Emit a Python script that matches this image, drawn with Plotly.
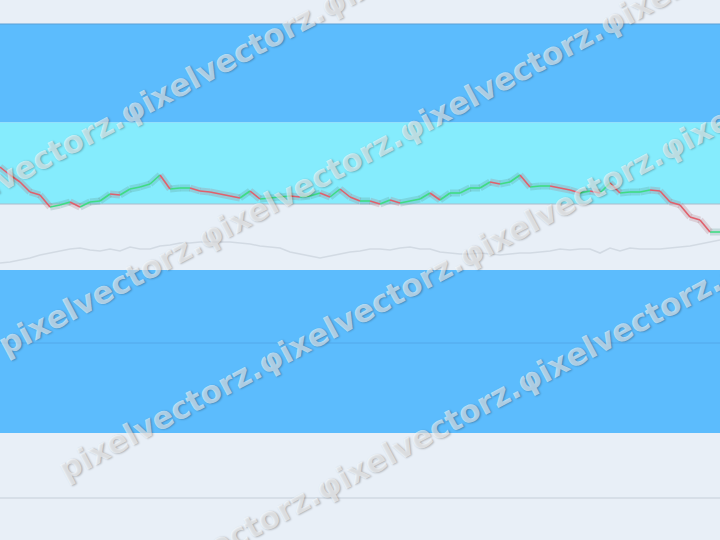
import plotly.graph_objects as go
import math

# ---------------- data ----------------
days = list(range(73))
close = [37.3, 36.5, 35.8, 34.8, 34.5, 33.3, 33.5, 33.8, 33.3, 33.8, 33.9, 34.6, 34.5, 35.1, 35.3,
         35.6, 36.5, 35.1, 35.2, 35.2, 34.9, 34.8, 34.6, 34.4, 34.2, 34.9, 34.1, 34.2, 34.3, 34.4,
         34.3, 34.4, 34.7, 34.3, 35.1, 34.3, 33.9, 33.9, 33.6, 34.0, 33.7, 33.9, 34.1, 34.7, 34.0,
         34.7, 34.7, 35.2, 35.2, 35.8, 35.6, 35.8, 36.5, 35.3, 35.4, 35.4, 35.2, 35.0, 34.7, 34.9,
         34.7, 35.7, 34.7, 34.8, 34.8, 35.0, 34.9, 33.8, 33.5, 32.3, 32.0, 30.8, 30.8]
avg_line = [27.7, 27.8, 28.0, 28.2, 28.5, 28.7, 28.9, 29.1, 29.2, 29.0, 28.9, 29.1, 28.9, 29.3, 29.1,
            29.1, 29.4, 29.5, 29.7, 29.7, 29.8, 29.8, 29.8, 29.8, 29.7, 29.6, 29.4, 29.3, 29.2, 28.8,
            28.6, 28.4, 28.2, 28.4, 28.6, 28.8, 28.9, 29.1, 29.1, 29.0, 29.2, 29.3, 29.1, 29.1, 28.8,
            28.7, 28.6, 28.6, 28.7, 28.6, 28.5, 28.6, 28.7, 28.7, 28.8, 28.9, 29.1, 29.0, 29.1, 29.1,
            28.7, 29.2, 28.9, 29.2, 29.1, 29.1, 29.1, 29.2, 29.3, 29.4, 29.6, 29.8, 30.0]
zone_top = [51.6, 41.75, 27.0]
zone_bottom = [41.75, 33.6, 10.7]
zone_color = ["#5cbcfd", "#85ecfd", "#5cbcfd"]
level_lines = [51.6, 33.6, 19.7, 4.2]
level_colors = ["#5a9fd6", "#a9bccb", "#52a8ea", "#c5ced8"]
watermark_unit = "φixelvectorz."
watermark_first = "pixelvectorz."

# ---------------- figure ----------------
fig = go.Figure()

# faint average line
fig.add_trace(go.Scatter(x=days, y=avg_line, mode="lines",
                         line=dict(color="#d2dae3", width=1.6), hoverinfo="skip"))

# split close into rising / falling segments
up_x, up_y, dn_x, dn_y = [], [], [], []
for i in range(len(close) - 1):
    if close[i + 1] >= close[i]:
        up_x += [days[i], days[i + 1], None]
        up_y += [close[i], close[i + 1], None]
    else:
        dn_x += [days[i], days[i + 1], None]
        dn_y += [close[i], close[i + 1], None]

fig.add_trace(go.Scatter(x=up_x, y=up_y, mode="lines",
                         line=dict(color="rgba(90,150,140,0.25)", width=7), hoverinfo="skip"))
fig.add_trace(go.Scatter(x=dn_x, y=dn_y, mode="lines",
                         line=dict(color="rgba(180,110,120,0.25)", width=7), hoverinfo="skip"))
fig.add_trace(go.Scatter(x=up_x, y=up_y, mode="lines",
                         line=dict(color="#3fdc84", width=1.6), hoverinfo="skip"))
fig.add_trace(go.Scatter(x=dn_x, y=dn_y, mode="lines",
                         line=dict(color="#e0606c", width=1.6), hoverinfo="skip"))

shapes = []
for t, b, c in zip(zone_top, zone_bottom, zone_color):
    shapes.append(dict(type="rect", xref="paper", yref="y", x0=0, x1=1, y0=b, y1=t,
                       fillcolor=c, line=dict(width=0), layer="below"))
for lv, c in zip(level_lines, level_colors):
    shapes.append(dict(type="line", xref="paper", yref="y", x0=0, x1=1, y0=lv, y1=lv,
                       line=dict(color=c, width=1), layer="below"))

# watermark rows
W, H = 720, 540
S = 31
ang = 28
em_per_unit = 7.335
starts = [(-78, 222), (0, 347), (60, 472), (118, 598)]
annotations = []
for (x0, y0) in starts:
    n = 5
    text = watermark_first + watermark_unit * (n - 1)
    L = n * em_per_unit * S
    cx = x0 + L / 2 * math.cos(math.radians(ang))
    cy = y0 - L / 2 * math.sin(math.radians(ang))
    annotations.append(dict(text=text, xref="paper", yref="paper",
                            x=cx / W, y=1 - cy / H, xanchor="center", yanchor="middle",
                            showarrow=False, textangle=-ang,
                            font=dict(family="DejaVu Sans", size=S, weight="bold",
                                      color="rgba(255,255,255,0.58)",
                                      shadow="1px 1px 2px rgba(0,0,0,0.45)")))

fig.update_layout(
    width=720, height=540,
    margin=dict(l=0, r=0, t=0, b=0),
    paper_bgcolor="#e8eff7", plot_bgcolor="#e8eff7",
    showlegend=False,
    xaxis=dict(range=[0, 72], visible=False, fixedrange=True),
    yaxis=dict(range=[0, 54], visible=False, fixedrange=True),
    shapes=shapes,
    annotations=annotations,
)

fig.write_html("out.html", config={"displayModeBar": False},
               post_script="document.body.style.margin='0';document.body.style.overflow='hidden';")
